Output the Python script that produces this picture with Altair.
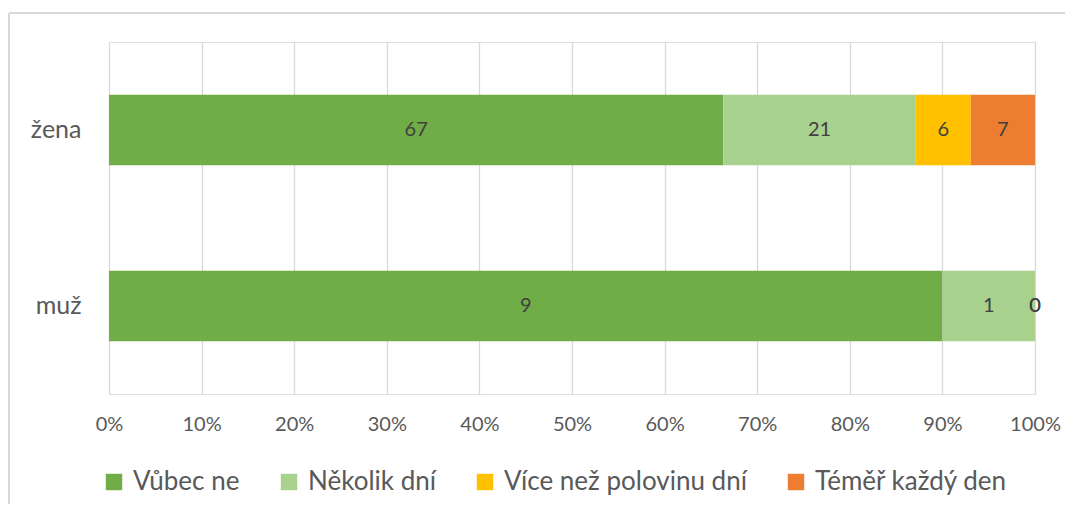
import altair as alt
import pandas as pd

categories = ["žena", "muž"]
series = ["Vůbec ne", "Několik dní", "Více než polovinu dní", "Téměř každý den"]
colors = ["#70AD47", "#A9D18E", "#FFC000", "#ED7D31"]
vals_zena = [67, 21, 6, 7]
vals_muz = [9, 1, 0, 0]

rows = []
for cat, vals in zip(categories, [vals_zena, vals_muz]):
    for i, (s, v) in enumerate(zip(series, vals)):
        rows.append({"cat": cat, "series": s, "value": v, "order": i})
df = pd.DataFrame(rows)

FONT = "Lato"

base = alt.Chart(df).transform_stack(
    stack="value", groupby=["cat"], as_=["start", "end"],
    offset="normalize", sort=[alt.SortField("order", order="ascending")]
).transform_calculate(mid="(datum.start + datum.end) / 2")

yenc = alt.Y("cat:N", sort=categories, title=None,
             scale=alt.Scale(paddingInner=0.6, paddingOuter=0.3),
             axis=alt.Axis(domain=False, ticks=False, labelFontSize=25,
                           labelColor="#595959", labelPadding=28, labelFont=FONT))

bars = base.mark_bar().encode(
    x=alt.X("start:Q", title=None, scale=alt.Scale(domain=[0, 1]),
            axis=alt.Axis(format="%", values=[i / 10 for i in range(11)],
                          domain=False, ticks=False, grid=True,
                          gridColor="#d9d9d9", gridWidth=1.3,
                          labelFontSize=20, labelColor="#595959",
                          labelPadding=20, labelFont=FONT, labelFlush=False)),
    x2="end:Q",
    y=yenc,
    color=alt.Color("series:N", sort=series,
                    scale=alt.Scale(domain=series, range=colors),
                    legend=alt.Legend(orient="none", legendX=-8, legendY=427,
                                      direction="horizontal", title=None,
                                      symbolType="square", symbolSize=270,
                                      symbolStrokeWidth=0,
                                      labelFontSize=26, labelColor="#595959",
                                      labelFont=FONT, labelOffset=6,
                                      labelLimit=500,
                                      columnPadding=36)),
    order=alt.Order("order:Q"),
)

labels = base.mark_text(fontSize=20, color="#404040", font=FONT).encode(
    x=alt.X("mid:Q"),
    y=alt.Y("cat:N", sort=categories),
    text=alt.Text("value:Q"),
)

top_border = alt.Chart(df).mark_rule(color="#d9d9d9", strokeWidth=1.5).encode(
    x=alt.value(-100), x2=alt.value(960), y=alt.value(-29)
)
left_border = alt.Chart(df).mark_rule(color="#d9d9d9", strokeWidth=1.5).encode(
    x=alt.value(-100), y=alt.value(-29), y2=alt.value(470)
)

chart = alt.layer(bars, labels, top_border, left_border).properties(
    width=926, height=352,
    padding={"left": 101, "top": 34, "right": 30, "bottom": 110},
    autosize=alt.AutoSizeParams(type="none"),
).configure_view(stroke=None).configure(background="white")

chart.save("out.html", embed_options={"renderer": "svg", "actions": False})
